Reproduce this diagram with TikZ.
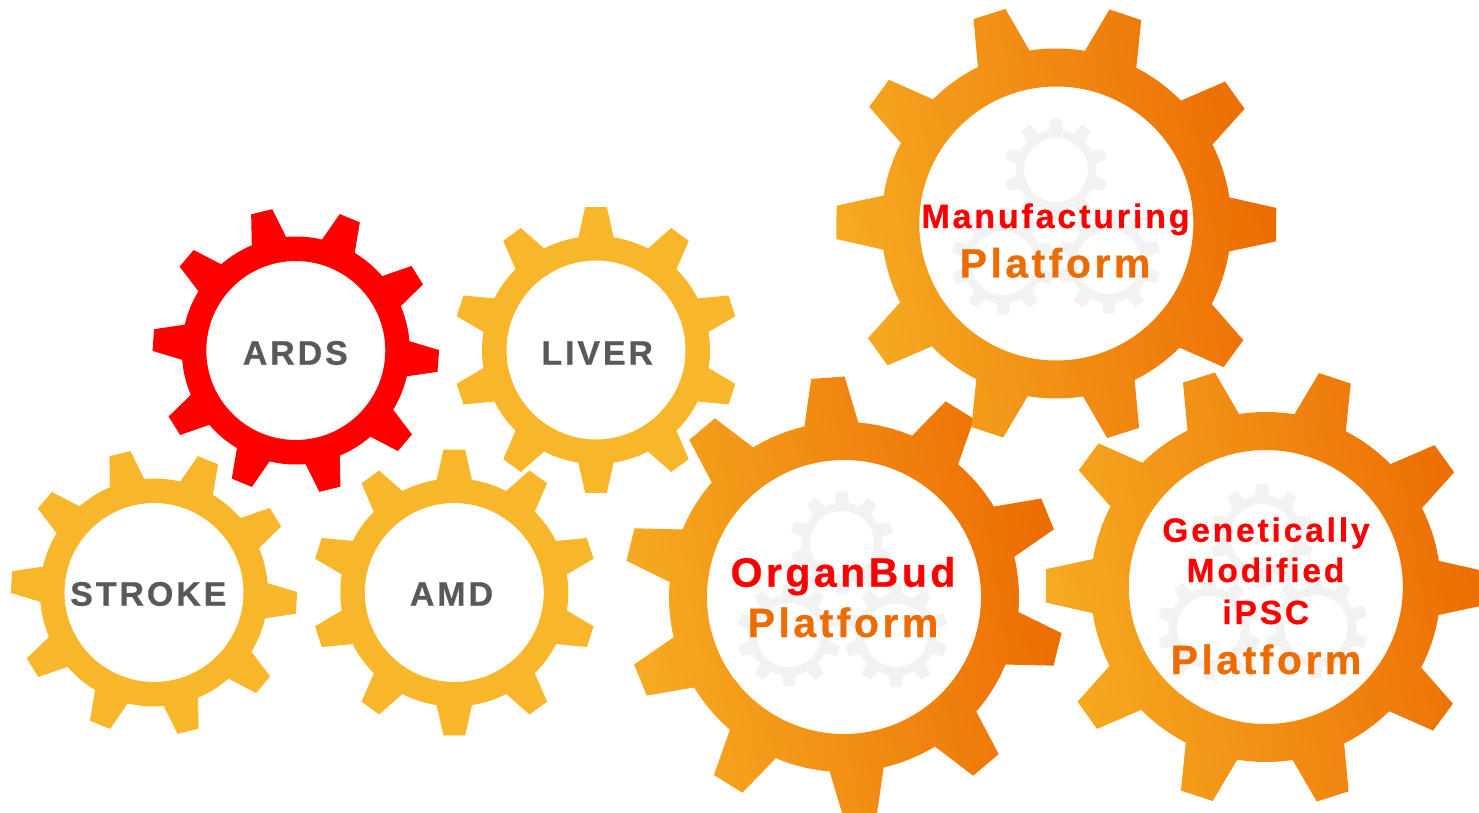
\documentclass[tikz,border=0pt]{standalone}
\usepackage{fontspec}
\setmainfont{Liberation Sans}
\newfontfamily\lblA[LetterSpace=8.5,BoldFeatures={FakeBold=0.6}]{Liberation Sans}
\newfontfamily\lblB[LetterSpace=8.3,BoldFeatures={FakeBold=0.6}]{Liberation Sans}
\definecolor{gearlight}{HTML}{F6AB22}
\definecolor{geardark}{HTML}{EC6C02}
\definecolor{gearyellow}{HTML}{F8B62B}
\definecolor{markgrey}{HTML}{F2F2F2}
\definecolor{txtgrey}{HTML}{595959}
\definecolor{txtorange}{HTML}{EC6C02}
% #1 path command and options, #2 cx, #3 cy (y up), #4 phase, #5 hole r, #6 root r, #7 tip r, #8 base half angle, #9 tip half angle
\newcommand{\gearshape}[9]{%
  \begin{scope}[shift={(#2,#3)}]
    #1 (#4-#8:#6)
      \foreach \k [evaluate=\k as \a using #4+36*\k] in {0,...,9} {
        -- (\a-#8:#6) -- (\a-#9:#7) -- (\a+#9:#7) -- (\a+#8:#6)
        arc[start angle=\a+#8,end angle=\a+36-#8,radius=#6]
      } -- cycle (0,0) circle[radius=#5];
  \end{scope}}
\newcommand{\biggear}[3]{\gearshape{\shade[even odd rule,left color=gearlight,right color=geardark,shading angle=100]}{#1}{#2}{#3}{137}{175}{220.5}{8.9}{4.35}}
\newcommand{\midgear}[4]{\gearshape{\fill[even odd rule,#4]}{#1}{#2}{#3}{89.5}{114}{143.3}{8.9}{4.35}}
\newcommand{\markgear}[2]{\gearshape{\fill[even odd rule,markgrey]}{#1}{#2}{90}{32}{40.5}{52}{9.9}{5.85}}
\tikzset{
  lab/.style={anchor=base,inner sep=0pt,font=\lblA\bfseries\fontsize{33.5}{36}\selectfont},
  greylab/.style={lab,text=txtgrey,font=\lblA\bfseries\fontsize{34}{36}\selectfont},
  redlab/.style={lab,text=red},
  bigred/.style={lab,text=red,font=\lblA\bfseries\fontsize{41}{44}\selectfont},
  plat/.style={lab,text=txtorange,font=\lblA\bfseries\fontsize{41}{44}\selectfont}
}
\begin{document}
\begin{tikzpicture}[x=1pt,y=1pt]
\useasboundingbox (0,0) rectangle (1479,812);
\clip (0,0) rectangle (1479,812);
% small gears
\midgear{295.8}{461.5}{-4.2}{red}
\midgear{596}{462}{90}{gearyellow}
\midgear{154}{219.5}{-4.2}{gearyellow}
\midgear{454.3}{219.5}{90}{gearyellow}
% big gears
\biggear{844}{215}{94.2}
\biggear{1056.3}{588.5}{-0.3}
\biggear{1265.8}{225}{-0.3}
% watermarks
\markgear{1056}{642}
\markgear{1003}{549}
\markgear{1109}{550}
\markgear{842}{269}
\markgear{789}{177}
\markgear{896}{177}
\markgear{1262}{276}
\markgear{1209}{184}
\markgear{1316}{185}
% labels
\node[greylab] (ards) at (295.3,447.3) {ARDS};
\node[greylab] (liver) at (597.2,447.3) {LIVER};
\node[greylab] (stroke) at (148.3,206.3) {STROKE};
\node[greylab] (amd) at (451.5,206.3) {AMD};
\node[lab,text=red,font=\lblB\bfseries\fontsize{34}{36}\selectfont] (manu) at (1055.5,584) {Manufacturing};
\node[plat] (platm) at (1055,534.5) {Platform};
\node[bigred] (organ) at (843,225.3) {OrganBud};
\node[plat] (plato) at (843,175) {Platform};
\node[redlab] (gen) at (1266,270.3) {Genetically};
\node[redlab] (mod) at (1265.5,230) {Modified};
\node[redlab] (ipsc) at (1265.8,188) {iPSC};
\node[plat] (platg) at (1266,138) {Platform};
\end{tikzpicture}
\end{document}
